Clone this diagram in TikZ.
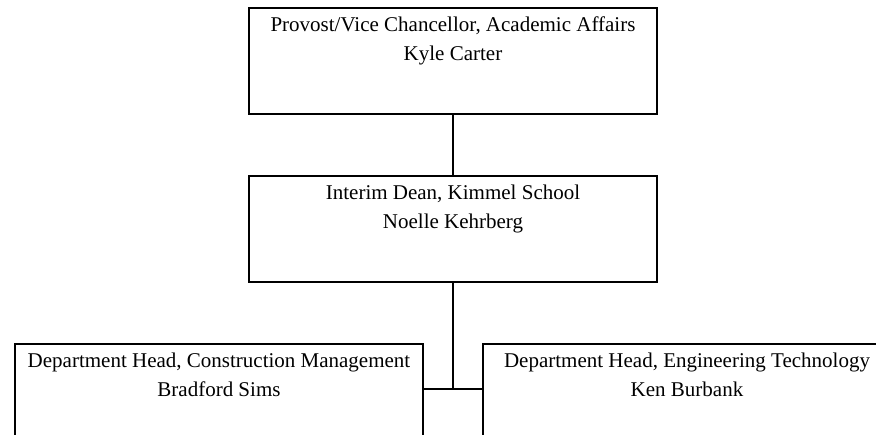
\documentclass[tikz,border=0pt]{standalone}
\usepackage{fontspec}
\setmainfont{Liberation Serif}
\begin{document}
\begin{tikzpicture}[x=1pt,y=-1pt,
  orgbox/.style={draw=black,line width=2.5pt,minimum width=408pt,minimum height=106pt,inner sep=0pt,anchor=north,fill=white},
  orgtext/.style={anchor=base,align=center,inner sep=0pt,font=\fontsize{21}{29}\selectfont},
  link/.style={draw=black,line width=1.8pt}]
\useasboundingbox (0,0) rectangle (876,435);
\clip (0,0) rectangle (876,435);
\fill[white] (0,0) rectangle (876,435);
\node[orgbox] (prov) at (453,7) {};
\node[orgbox] (dean) at (453,175) {};
\node[orgbox] (cm) at (219,343) {};
\node[orgbox] (et) at (687,343) {};
\coordinate (j) at (453,389);
\draw[link] (prov.south) -- (dean.north);
\draw[link] (dean.south) -- (j);
\draw[link] (cm.east |- j) -- (et.west |- j);
\node[orgtext] (provt) at (453,61) {Provost/Vice Chancellor, Academic Affairs\\Kyle Carter};
\node[orgtext] (deant) at (453,229) {Interim Dean, Kimmel School\\Noelle Kehrberg};
\node[orgtext] (cmt) at (219,397) {Department Head, Construction Management\\Bradford Sims};
\node[orgtext] (ett) at (687,397) {Department Head, Engineering Technology\\Ken Burbank};
\end{tikzpicture}
\end{document}
